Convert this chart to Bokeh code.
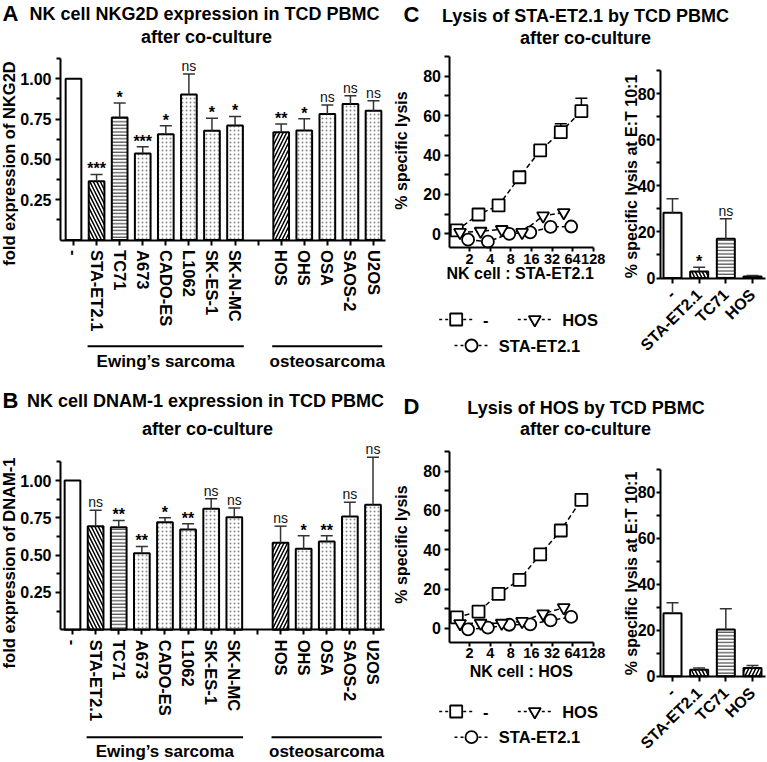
import math
from bokeh.plotting import figure
from bokeh.models import Range1d, FixedTicker, NumeralTickFormatter
from bokeh.layouts import row, column
from bokeh.core.properties import value
from bokeh.embed import file_html
from bokeh.resources import INLINE

# ---------------- data ----------------
control_label = "-"
ewing_lines = ["STA-ET2.1", "TC71", "A673", "CADO-ES", "L1062", "SK-ES-1", "SK-N-MC"]
osteo_lines = ["HOS", "OHS", "OSA", "SAOS-2", "U2OS"]
ewing_group = "Ewing\u2019s sarcoma"
osteo_group = "osteosarcoma"

# panel A: fold expression of NKG2D (control, Ewing lines, osteosarcoma lines)
nkg2d_fold = [1.00, 0.365, 0.76, 0.537, 0.657, 0.903, 0.678, 0.71, 0.668, 0.68, 0.782, 0.843, 0.802]
nkg2d_sem = [0.0, 0.042, 0.09, 0.042, 0.052, 0.127, 0.078, 0.056, 0.052, 0.072, 0.056, 0.052, 0.062]
nkg2d_sig = ["", "***", "*", "***", "*", "ns", "*", "*", "**", "*", "ns", "ns", "ns"]

# panel B: fold expression of DNAM-1
dnam1_fold = [1.00, 0.694, 0.687, 0.513, 0.721, 0.672, 0.81, 0.754, 0.583, 0.543, 0.591, 0.759, 0.837]
dnam1_sem = [0.0, 0.106, 0.045, 0.045, 0.029, 0.038, 0.067, 0.061, 0.111, 0.087, 0.039, 0.096, 0.319]
dnam1_sig = ["", "ns", "**", "**", "*", "**", "ns", "ns", "ns", "*", "**", "ns", "ns"]

# panels C/D, left: lysis curves, NK cell : target ratio
lysis_conditions = ["-", "STA-ET2.1", "HOS"]
et_ticks = [2, 4, 8, 16, 32, 64, 128]
et_ratio_ctrl = [1.3, 2.7, 5.3, 10.7, 21.5, 43.0, 86.0]
et_ratio_sta = [1.9, 3.7, 7.6, 15.4, 30.5, 61.0]
et_ratio_hos = [1.45, 2.9, 5.9, 11.7, 23.7, 47.5]

sta_lysis_ctrl = [1.7, 9.8, 14.4, 28.7, 42.3, 51.6, 62.3]
sta_lysis_ctrl_sem = [1.0, 1.2, 1.5, 1.5, 1.5, 4.2, 6.5]
sta_lysis_sta = [-3.0, -4.0, 0.0, 0.7, 3.5, 3.7]
sta_lysis_hos = [0.7, 1.3, 2.2, 0.7, 9.1, 10.8]

hos_lysis_ctrl = [5.6, 8.5, 17.5, 24.7, 37.6, 49.8, 65.4]
hos_lysis_ctrl_sem = [1.0, 1.0, 1.0, 1.2, 1.2, 1.5, 2.8]
hos_lysis_sta = [-0.5, 0.3, 1.8, 2.0, 4.0, 5.8]
hos_lysis_hos = [2.4, 2.6, 2.6, 3.5, 7.4, 10.5]

# panels C/D, right: lysis at E:T 10:1
coculture_groups = ["-", "STA-ET2.1", "TC71", "HOS"]
sta_lysis_10 = [28.3, 2.8, 17.0, 0.7]
sta_lysis_10_sem = [6.1, 1.9, 8.7, 0.4]
sta_lysis_10_sig = ["", "*", "ns", ""]
hos_lysis_10 = [27.4, 2.8, 20.3, 3.6]
hos_lysis_10_sem = [4.5, 0.8, 9.0, 1.0]
hos_lysis_10_sig = ["", "", "", ""]

# ---------------- layout helpers ----------------
FONT = "Liberation Sans"
MID = 0.35   # distance (in em) from the baseline to the middle of capitals


class Canvas:
    """Maps reference pixel positions (page == reference) to data units of one figure."""

    def __init__(self, x0, y0, w, h, xa=((0.0, 0.0), (100.0, 100.0)),
                 ya=((0.0, 0.0), (100.0, 100.0)), xlog=False):
        self.x0, self.y0, self.w, self.h, self.xlog = x0, y0, w, h, xlog
        (r1, v1), (r2, v2) = xa
        if xlog:
            v1, v2 = math.log2(v1), math.log2(v2)
        c1, c2 = r1 - x0, r2 - x0
        self.xs = (v2 - v1) / (c2 - c1)
        self.xc, self.xv = c1, v1
        (r1, v1), (r2, v2) = ya
        c1, c2 = r1 - y0, r2 - y0
        self.ys = (v2 - v1) / (c2 - c1)
        self.yc, self.yv = c1, v1

    def cx(self, c):
        v = self.xv + (c - self.xc) * self.xs
        return 2.0 ** v if self.xlog else v

    def cy(self, c):
        return self.yv + (c - self.yc) * self.ys

    def fx(self, r):
        return self.cx(r - self.x0)

    def fy(self, r):
        return self.cy(r - self.y0)

    def shift_x(self, x, px):
        if self.xlog:
            return x * 2.0 ** (px * self.xs)
        return x + px * self.xs

    def up(self, px):
        return -px * self.ys

    def ranges(self):
        return (Range1d(self.cx(0), self.cx(self.w)),
                Range1d(self.cy(self.h), self.cy(0)))


def make_fig(cv, blank=False):
    xr, yr = cv.ranges()
    kw = dict(width=cv.w, height=cv.h, x_range=xr, y_range=yr, title=None,
              output_backend="svg", toolbar_location=None, min_border=0,
              outline_line_color=None, background_fill_color="white",
              border_fill_color="white")
    if blank:
        kw["x_axis_type"] = None
        kw["y_axis_type"] = None
    elif cv.xlog:
        kw["x_axis_type"] = "log"
    p = figure(**kw)
    for g in p.grid:
        g.visible = False
    return p


def style_axis(ax, at, bounds, size=16, tick_out=5, minor_out=4, standoff=4):
    ax.fixed_location = at
    ax.bounds = bounds
    ax.axis_line_width = 2
    ax.axis_line_color = "black"
    ax.major_tick_line_width = 2
    ax.major_tick_line_color = "black"
    ax.minor_tick_line_width = 2
    ax.minor_tick_line_color = "black"
    ax.major_tick_in = 0
    ax.major_tick_out = tick_out
    ax.minor_tick_in = 0
    ax.minor_tick_out = minor_out
    ax.major_label_text_font = FONT
    ax.major_label_text_font_style = "bold"
    ax.major_label_text_font_size = f"{size}px"
    ax.major_label_text_color = "black"
    ax.major_label_standoff = standoff


def put_text(p, cv, rx, ry, s, size, style="bold", align="left", rotated=False,
             color="black"):
    """(rx, ry): reference position of the text baseline (x of the baseline if rotated)."""
    if rotated:
        x, y, angle = cv.fx(rx - MID * size), cv.fy(ry), math.pi / 2
    else:
        x, y, angle = cv.fx(rx), cv.fy(ry - MID * size), 0.0
    p.text(x=[x], y=[y], text=[s], text_font=value(FONT), text_font_size=f"{size}px",
           text_font_style=style, text_align=align, text_baseline="middle",
           angle=angle, text_color=color)


PATTERN = {"-": None, "STA-ET2.1": "left_diagonal_line", "TC71": "horizontal_line",
           "HOS": "right_diagonal_line"}
HATCH = {
    None: dict(),
    "left_diagonal_line": dict(hatch_color="black", hatch_scale=7, hatch_weight=1.5),
    "right_diagonal_line": dict(hatch_color="black", hatch_scale=7, hatch_weight=1.5),
    "horizontal_line": dict(hatch_color="#222222", hatch_scale=3.4, hatch_weight=1),
    "dot": dict(hatch_color="#8a8a8a", hatch_scale=4, hatch_weight=1),
}


def draw_bars(p, xs, labels, means, width):
    for pat, hs in HATCH.items():
        idx = [i for i, lab in enumerate(labels) if PATTERN.get(lab, "dot") == pat]
        if not idx:
            continue
        p.vbar(x=[xs[i] for i in idx], top=[means[i] for i in idx], bottom=0, width=width,
               fill_color="white", line_color="black", line_width=2,
               hatch_pattern=pat, **hs)


def draw_errors(p, cv, xs, means, sems, cap_px, color="#333333"):
    sel = [i for i in range(len(means)) if sems[i] > 0]
    x = [xs[i] for i in sel]
    y0 = [means[i] for i in sel]
    y1 = [means[i] + sems[i] for i in sel]
    p.segment(x0=x, y0=y0, x1=x, y1=y1, line_color=color, line_width=1.5)
    p.segment(x0=[cv.shift_x(v, -cap_px) for v in x], y0=y1,
              x1=[cv.shift_x(v, cap_px) for v in x], y1=y1, line_color=color, line_width=1.5)


def draw_sig(p, cv, xs, means, sems, sigs):
    for i, s in enumerate(sigs):
        if not s:
            continue
        top = means[i] + sems[i]
        if s == "ns":
            p.text(x=[xs[i]], y=[top + cv.up(3 + MID * 14)], text=[s], text_font=value(FONT),
                   text_font_size="14px", text_font_style="normal", text_align="center",
                   text_baseline="middle", text_color="#111111")
        else:
            p.text(x=[xs[i]], y=[top + cv.up(5.6)], text=[s], text_font=value(FONT),
                   text_font_size="16px", text_font_style="bold", text_align="center",
                   text_baseline="middle", text_color="black")


def expression_panel(cv, means, sems, sigs, letter, title1, ylabel, pos):
    p = make_fig(cv)
    labels = [control_label] + ewing_lines + osteo_lines
    n_e = len(ewing_lines)
    slots = list(range(1 + n_e)) + [n_e + 2 + i for i in range(len(osteo_lines))]
    n_slots = n_e + len(osteo_lines) + 2
    y_axis_at = cv.fx(60)

    xa = p.xaxis[0]
    style_axis(xa, 0.0, (y_axis_at, n_slots - 0.5), size=16.5, tick_out=5, standoff=5)
    xa.ticker = FixedTicker(ticks=list(range(n_slots)), minor_ticks=[])
    overrides = {i: " " for i in range(n_slots)}
    overrides.update({s: lab for s, lab in zip(slots, labels)})
    xa.major_label_overrides = overrides
    xa.major_label_orientation = "vertical"

    ya = p.yaxis[0]
    style_axis(ya, y_axis_at, (0, 1.125), size=16, tick_out=5, minor_out=4, standoff=4)
    ya.ticker = FixedTicker(ticks=[0.25, 0.5, 0.75, 1.0],
                            minor_ticks=[0.125, 0.375, 0.625, 0.875, 1.125])
    ya.formatter = NumeralTickFormatter(format="0.00")

    draw_bars(p, slots, labels, means, 0.68)
    draw_errors(p, cv, slots, means, sems, 6)
    draw_sig(p, cv, slots, means, sems, sigs)

    groups = ((ewing_group, slots[1], slots[n_e]), (osteo_group, slots[n_e + 1], slots[-1]))
    yl = cv.fy(pos["group_line"])
    for grp, first, last in groups:
        x0, x1 = first - 0.39, last + 0.38
        p.line([x0, x1], [yl, yl], line_color="black", line_width=2)
        p.text(x=[(x0 + x1) / 2], y=[cv.fy(pos["group_text"] - MID * 17)], text=[grp],
               text_font=value(FONT), text_font_size="17px", text_font_style="bold",
               text_align="center", text_baseline="middle", text_color="black")

    put_text(p, cv, 2, pos["letter_y"], letter, 22)
    put_text(p, cv, pos["t1_x"], pos["t1_y"], title1, 18, align="center")
    put_text(p, cv, pos["t2_x"], pos["t2_y"], "after co-culture", 18, align="center")
    put_text(p, cv, 14.5, pos["ylab_y"], ylabel, 16.5, align="center", rotated=True)
    return p


def legend_entry(p, cv, mx, my, marker, label, tx):
    y = cv.fy(my)
    p.line([cv.fx(mx - 17), cv.fx(mx + 17)], [y, y], line_dash="3 3", line_width=1.5,
           line_color="black")
    p.scatter([cv.fx(mx)], [y], marker=marker, size=12, fill_color="white",
              line_color="black", line_width=1.8)
    put_text(p, cv, tx, my + 6, label, 16.5)


def lysis_curve_panel(cv, ctrl, ctrl_sem, sta, hos, xaxis_at, xlabel, pos):
    p = make_fig(cv)
    xa = p.xaxis[0]
    style_axis(xa, xaxis_at, (1, 128), size=14.5, tick_out=4, standoff=2)
    xa.ticker = FixedTicker(ticks=et_ticks, minor_ticks=[])
    xa.formatter = NumeralTickFormatter(format="0")
    ya = p.yaxis[0]
    style_axis(ya, 1.0, (xaxis_at, 90), size=16, tick_out=5, minor_out=5, standoff=3)
    ya.ticker = FixedTicker(ticks=[0, 20, 40, 60, 80], minor_ticks=[10, 30, 50, 70, 90])

    series = [(et_ratio_ctrl, ctrl, "square"), (et_ratio_sta, sta, "circle"),
              (et_ratio_hos, hos, "inverted_triangle")]
    for xs, ys, mk in series:
        p.line(xs, ys, line_dash="5 3", line_width=1.5, line_color="black")
    draw_errors(p, cv, et_ratio_ctrl, ctrl, ctrl_sem, 6, color="black")
    for xs, ys, mk in series:
        p.scatter(xs, ys, marker=mk, size=12, fill_color="white", line_color="black",
                  line_width=1.8)

    put_text(p, cv, pos["xlab_x"], pos["xlab_y"], xlabel, 16, align="center")
    put_text(p, cv, 407, pos["ylab_y"], "% specific lysis", 16, align="center", rotated=True)
    r1, r2 = pos["leg1"], pos["leg2"]
    legend_entry(p, cv, 455.7, r1, "square", lysis_conditions[0], 482.5)
    legend_entry(p, cv, 534.3, r1, "inverted_triangle", lysis_conditions[2], 561.7)
    legend_entry(p, cv, 471.0, r2, "circle", lysis_conditions[1], 498.3)
    return p


def lysis_bar_panel(cv, means, sems, sigs, ylab_y):
    p = make_fig(cv)
    slots = list(range(len(coculture_groups)))
    y_axis_at = cv.fx(660)
    xa = p.xaxis[0]
    style_axis(xa, 0.0, (y_axis_at, len(slots) - 0.5), size=16, tick_out=5, standoff=9)
    xa.ticker = FixedTicker(ticks=slots, minor_ticks=[])
    xa.major_label_overrides = {s: lab for s, lab in zip(slots, coculture_groups)}
    xa.major_label_orientation = math.pi / 4
    ya = p.yaxis[0]
    style_axis(ya, y_axis_at, (0, 90), size=16, tick_out=4, minor_out=4, standoff=1)
    ya.ticker = FixedTicker(ticks=[0, 20, 40, 60, 80], minor_ticks=[10, 30, 50, 70, 90])

    draw_bars(p, slots, coculture_groups, means, 0.675)
    draw_errors(p, cv, slots, means, sems, 6)
    draw_sig(p, cv, slots, means, sems, sigs)
    put_text(p, cv, 637, ylab_y, "% specific lysis at E:T 10:1", 16, align="center",
             rotated=True)
    return p


def title_panel(cv, letter, line1, y1, y2, cx1):
    p = make_fig(cv, blank=True)
    put_text(p, cv, 403, y1, letter, 22)
    put_text(p, cv, cx1, y1, line1, 18, align="center")
    put_text(p, cv, 585, y2, "after co-culture", 18, align="center")
    return p


# ---------------- build panels (page px == reference px) ----------------
cvA = Canvas(0, 0, 390, 377, xa=((73, 0), (373, 13)), ya=((239.6, 0), (78.3, 1)))
figA = expression_panel(cvA, nkg2d_fold, nkg2d_sem, nkg2d_sig, "A",
                        "NK cell NKG2D expression in TCD PBMC",
                        "fold expression of NKG2D",
                        dict(group_line=345.7, group_text=367.0, letter_y=21.0,
                             t1_x=204, t1_y=19.5, t2_x=206, t2_y=42.3, ylab_y=163))

cvB = Canvas(0, 377, 390, 384, xa=((72, 0), (372.5, 13)), ya=((629.3, 0), (480, 1)))
figB = expression_panel(cvB, dnam1_fold, dnam1_sem, dnam1_sig, "B",
                        "NK cell DNAM-1 expression in TCD PBMC",
                        "fold expression of DNAM-1",
                        dict(group_line=736.7, group_text=756.5, letter_y=407.5,
                             t1_x=205, t1_y=406.7, t2_x=207, t2_y=435, ylab_y=562.5))

cvCt = Canvas(390, 0, 376, 54)
figCt = title_panel(cvCt, "C", "Lysis of STA-ET2.1 by TCD PBMC", 21.7, 43.3, 585)

cvCl = Canvas(390, 54, 222, 323, xa=((448.5, 1), (592.7, 128)),
              ya=((233.3, 0), (75.7, 80)), xlog=True)
figCl = lysis_curve_panel(cvCl, sta_lysis_ctrl, sta_lysis_ctrl_sem, sta_lysis_sta,
                          sta_lysis_hos, -7.0, "NK cell : STA-ET2.1",
                          dict(xlab_x=519.7, xlab_y=278.5, ylab_y=150, leg1=319, leg2=345))

cvCb = Canvas(612, 54, 154, 323, xa=((672, 0), (752, 3)), ya=((277.5, 0), (93.3, 80)))
figCb = lysis_bar_panel(cvCb, sta_lysis_10, sta_lysis_10_sem, sta_lysis_10_sig, 176)

cvDt = Canvas(390, 377, 376, 69)
figDt = title_panel(cvDt, "D", "Lysis of HOS by TCD PBMC", 413.3, 435, 585.5)

cvDl = Canvas(390, 446, 222, 315, xa=((448.5, 1), (592.7, 128)),
              ya=((627.8, 0), (470.7, 80)), xlog=True)
figDl = lysis_curve_panel(cvDl, hos_lysis_ctrl, hos_lysis_ctrl_sem, hos_lysis_sta,
                          hos_lysis_hos, -7.0, "NK cell : HOS",
                          dict(xlab_x=520.8, xlab_y=676.5, ylab_y=544, leg1=711, leg2=736.7))

cvDb = Canvas(612, 446, 154, 315, xa=((672, 0), (752, 3)), ya=((675.7, 0), (491.7, 80)))
figDb = lysis_bar_panel(cvDb, hos_lysis_10, hos_lysis_10_sem, hos_lysis_10_sig, 573)

page = row(column(figA, figB),
           column(figCt, row(figCl, figCb), figDt, row(figDl, figDb)))

open("out.html", "w").write(file_html(page, INLINE))
